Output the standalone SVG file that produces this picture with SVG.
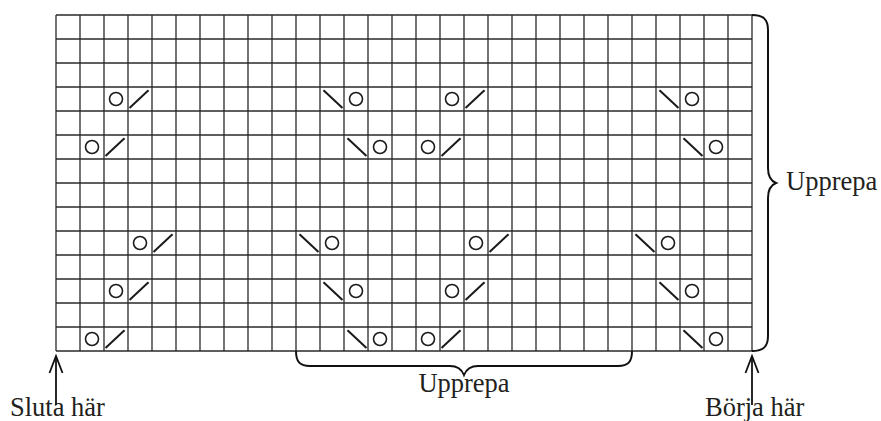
<svg xmlns="http://www.w3.org/2000/svg" xmlns:xlink="http://www.w3.org/1999/xlink" width="881" height="421" viewBox="0 0 881 421">
<style>
.grid{stroke:#2a2a2a;stroke-width:1.3;fill:none}
.sym{stroke:#1a1a1a;stroke-width:2;fill:none;stroke-linecap:butt}
.ring{stroke:#1a1a1a;stroke-width:1.6;fill:none}
.brace{stroke:#111;stroke-width:2;fill:none}
.arr{stroke:#111;stroke-width:1.8;fill:none}
.lbl{font-family:"Liberation Serif","Times New Roman",serif;font-size:26.5px;fill:#231f20}
</style>
<defs>
<g id="yo"><circle class="ring" cx="12" cy="12" r="6.5"/></g>
<g id="k2l"><line class="sym" x1="1.5" y1="21" x2="20.5" y2="3.3"/></g>
<g id="k2r"><line class="sym" x1="3.5" y1="3.3" x2="22.5" y2="21"/></g>
<marker id="ah" markerWidth="20" markerHeight="16" refX="18" refY="8" orient="auto" markerUnits="userSpaceOnUse" viewBox="0 0 20 16">
<path d="M1,1.5 L18,8 L1,14.5" fill="none" stroke="#111" stroke-width="1.8"/>
</marker>
</defs>
<rect width="881" height="421" fill="#fff"/>
<g id="grid" class="grid">
<path d="M56,15V351M80,15V351M104,15V351M128,15V351M152,15V351M176,15V351M200,15V351M224,15V351M248,15V351M272,15V351M296,15V351M320,15V351M344,15V351M368,15V351M392,15V351M416,15V351M440,15V351M464,15V351M488,15V351M512,15V351M536,15V351M560,15V351M584,15V351M608,15V351M632,15V351M656,15V351M680,15V351M704,15V351M728,15V351M752,15V351"/>
<path d="M56,15H752M56,39H752M56,63H752M56,87H752M56,111H752M56,135H752M56,159H752M56,183H752M56,207H752M56,231H752M56,255H752M56,279H752M56,303H752M56,327H752M56,351H752"/>
</g>
<g id="symbols">
<use xlink:href="#yo" x="104" y="87"/><use xlink:href="#k2l" x="128" y="87"/>
<use xlink:href="#k2r" x="320" y="87"/><use xlink:href="#yo" x="344" y="87"/>
<use xlink:href="#yo" x="440" y="87"/><use xlink:href="#k2l" x="464" y="87"/>
<use xlink:href="#k2r" x="656" y="87"/><use xlink:href="#yo" x="680" y="87"/>
<use xlink:href="#yo" x="80" y="135"/><use xlink:href="#k2l" x="104" y="135"/>
<use xlink:href="#k2r" x="344" y="135"/><use xlink:href="#yo" x="368" y="135"/>
<use xlink:href="#yo" x="416" y="135"/><use xlink:href="#k2l" x="440" y="135"/>
<use xlink:href="#k2r" x="680" y="135"/><use xlink:href="#yo" x="704" y="135"/>
<use xlink:href="#yo" x="128" y="231"/><use xlink:href="#k2l" x="152" y="231"/>
<use xlink:href="#k2r" x="296" y="231"/><use xlink:href="#yo" x="320" y="231"/>
<use xlink:href="#yo" x="464" y="231"/><use xlink:href="#k2l" x="488" y="231"/>
<use xlink:href="#k2r" x="632" y="231"/><use xlink:href="#yo" x="656" y="231"/>
<use xlink:href="#yo" x="104" y="279"/><use xlink:href="#k2l" x="128" y="279"/>
<use xlink:href="#k2r" x="320" y="279"/><use xlink:href="#yo" x="344" y="279"/>
<use xlink:href="#yo" x="440" y="279"/><use xlink:href="#k2l" x="464" y="279"/>
<use xlink:href="#k2r" x="656" y="279"/><use xlink:href="#yo" x="680" y="279"/>
<use xlink:href="#yo" x="80" y="327"/><use xlink:href="#k2l" x="104" y="327"/>
<use xlink:href="#k2r" x="344" y="327"/><use xlink:href="#yo" x="368" y="327"/>
<use xlink:href="#yo" x="416" y="327"/><use xlink:href="#k2l" x="440" y="327"/>
<use xlink:href="#k2r" x="680" y="327"/><use xlink:href="#yo" x="704" y="327"/>
</g>
<g id="connectors">
<path class="brace" d="M752,15 C763,15 768,19 768,30 L768,168 C768,176 771,181 776,183 C771,185 768,190 768,198 L768,336 C768,347 763,351 752,351"/>
<path class="brace" d="M296,351 C296,362 300,366 310,366 L450,366 C457,366 462,370 464,375 C466,370 471,366 478,366 L618,366 C628,366 632,362 632,351"/>
<line class="arr" x1="56" y1="405" x2="56" y2="356" marker-end="url(#ah)"/>
<line class="arr" x1="752" y1="405" x2="752" y2="356" marker-end="url(#ah)"/>
</g>
<g id="labels">
<text class="lbl" x="786" y="190">Upprepa</text>
<text class="lbl" x="464" y="392" text-anchor="middle">Upprepa</text>
<text class="lbl" x="10" y="416">Sluta här</text>
<text class="lbl" x="705" y="416">Börja här</text>
</g>
</svg>
